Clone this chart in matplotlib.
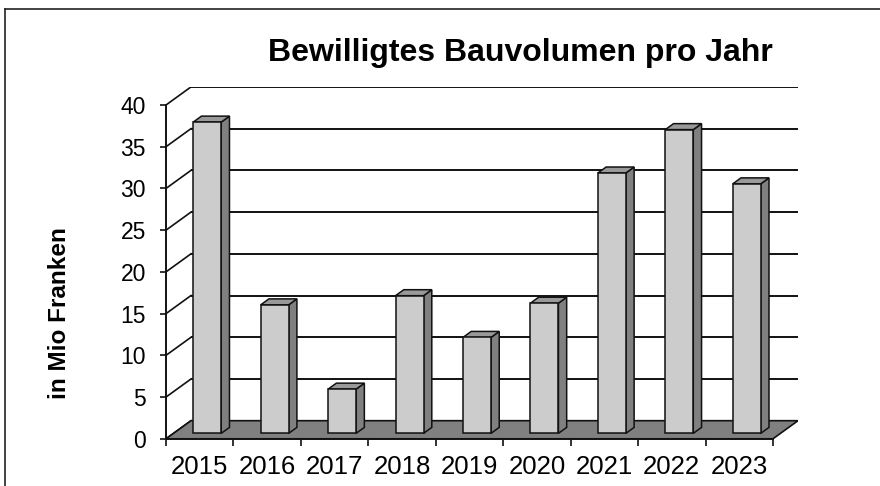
import matplotlib
matplotlib.use("Agg")
import matplotlib.pyplot as plt
from matplotlib.patches import Polygon
from matplotlib.lines import Line2D

# ---------------- data ----------------
years = ["2015", "2016", "2017", "2018", "2019", "2020", "2021", "2022", "2023"]
values = [37.3, 15.4, 5.3, 16.5, 11.5, 15.6, 31.2, 36.4, 29.9]
y_ticks = [0, 5, 10, 15, 20, 25, 30, 35, 40]
title = "Bewilligtes Bauvolumen pro Jahr"
y_label = "in Mio Franken"

# ---------------- style ----------------
FONT = ["Liberation Sans", "DejaVu Sans"]
plt.rcParams["font.family"] = FONT
W, H = 880, 486
CAT_PX = 67.44        # pixels per category
VAL_PX = 8.345        # pixels per value unit
DX = 0.371            # wall depth, in category units
DY = 2.17             # wall depth, in value units
F0, F1 = 0.30, 0.63   # bar front/back as fraction of depth
BAR_W = 0.415
FRONT_C, TOP_C, SIDE_C, FLOOR_C = "#cccccc", "#999999", "#808080", "#808080"
EDGE_C = "#111111"

fig = plt.figure(figsize=(W / 100, H / 100), dpi=100)
fig.patch.set_facecolor("white")

n = len(values)
ymax = y_ticks[-1]
ax_left = 166 / W
ax_bottom = (H - 438.8) / H
ax_w = (n + DX) * CAT_PX / W
ax_h = (ymax + DY) * VAL_PX / H
ax = fig.add_axes([ax_left, ax_bottom, ax_w, ax_h])
ax.set_xlim(0, n + DX)
ax.set_ylim(0, ymax + DY)
ax.patch.set_visible(False)

# back wall gridlines + left wall diagonals
for v in y_ticks:
    ax.plot([DX, n + DX], [v + DY, v + DY], color=EDGE_C, lw=1.4, zorder=1,
            solid_capstyle="butt")
    ax.plot([0, DX], [v, v + DY], color=EDGE_C, lw=1.2, zorder=1)

# floor
floor = Polygon([(0, 0), (n, 0), (n + DX, DY), (DX, DY)], closed=True,
                facecolor=FLOOR_C, edgecolor=EDGE_C, lw=1.2, zorder=2)
ax.add_patch(floor)

# bars
ddx = (F1 - F0) * DX
ddy = (F1 - F0) * DY
for i, v in enumerate(values):
    xl = i + 0.5 - BAR_W / 2 + F0 * DX
    xr = xl + BAR_W
    base = F0 * DY
    top = v + F0 * DY
    side = Polygon([(xr, base), (xr + ddx, base + ddy), (xr + ddx, top + ddy), (xr, top)],
                   closed=True, facecolor=SIDE_C, edgecolor=EDGE_C, lw=1.1, zorder=3)
    topf = Polygon([(xl, top), (xr, top), (xr + ddx, top + ddy), (xl + ddx, top + ddy)],
                   closed=True, facecolor=TOP_C, edgecolor=EDGE_C, lw=1.1, zorder=3)
    front = Polygon([(xl, base), (xr, base), (xr, top), (xl, top)],
                    closed=True, facecolor=FRONT_C, edgecolor=EDGE_C, lw=1.1, zorder=4)
    for p in (side, topf, front):
        ax.add_patch(p)

# axes spines / ticks
for s in ("top", "right"):
    ax.spines[s].set_visible(False)
ax.spines["left"].set_bounds(0, ymax)
ax.spines["bottom"].set_bounds(0, n)
for s in ("left", "bottom"):
    ax.spines[s].set_linewidth(1.4)
    ax.spines[s].set_color(EDGE_C)
    ax.spines[s].set_zorder(5)

ax.set_yticks(y_ticks)
ax.set_yticklabels([str(t) for t in y_ticks])
ax.tick_params(axis="y", direction="out", length=4.5, width=1.2, color=EDGE_C,
               pad=10, labelsize=16.5)
ax.set_xticks(range(n + 1))
ax.set_xticklabels([""] * (n + 1))
ax.set_xticks([i + 0.5 for i in range(n)], minor=True)
ax.set_xticklabels(years, minor=True)
ax.tick_params(axis="x", which="major", direction="out", length=5, width=1.2, color=EDGE_C)
ax.tick_params(axis="x", which="minor", length=0, pad=12, labelsize=18.5)

# title and y label
fig.text(520 / W, 1 - 53 / H, title, ha="center", va="center",
         fontsize=23, fontweight="bold")
fig.text(59 / W, 1 - 313 / H, y_label, ha="center", va="center", rotation=90,
         fontsize=17.5, fontweight="bold")

# outer frame (top and left edges visible)
fig.add_artist(Line2D([5 / W, 1.0], [1 - 9 / H, 1 - 9 / H], transform=fig.transFigure,
                      color="#222222", lw=1.2))
fig.add_artist(Line2D([5 / W, 5 / W], [0.0, 1 - 9 / H], transform=fig.transFigure,
                      color="#222222", lw=1.2))

fig.savefig("out.png", dpi=100)
